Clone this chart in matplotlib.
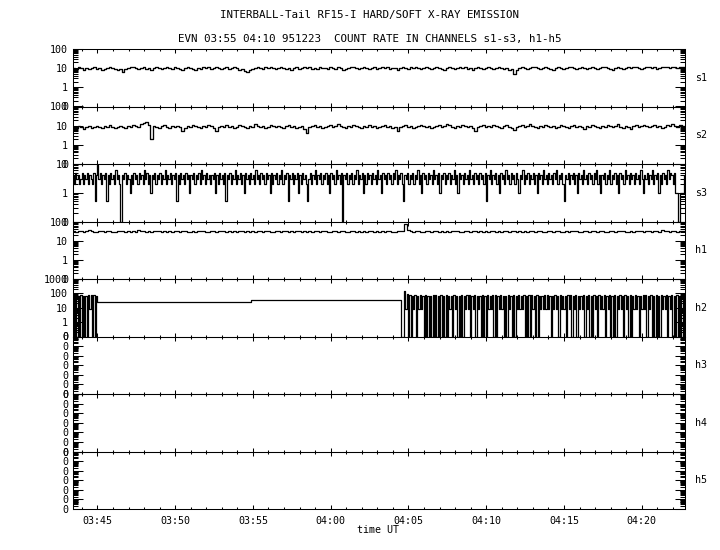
import numpy as np
import matplotlib
matplotlib.use("Agg")
import matplotlib.pyplot as plt
from matplotlib.ticker import FixedLocator, FixedFormatter, MultipleLocator, LogLocator, NullFormatter

TITLE = "INTERBALL-Tail RF15-I HARD/SOFT X-RAY EMISSION"
SUBTITLE = "EVN 03:55 04:10 951223  COUNT RATE IN CHANNELS s1-s3, h1-h5"
XLABEL = "time UT"
channels = ["s1", "s2", "s3", "h1", "h2", "h3", "h4", "h5"]

# time in minutes after 03:00 UT
x_range = (43.43, 82.78)
x_major = [45, 50, 55, 60, 65, 70, 75, 80]
x_major_labels = ["03:45", "03:50", "03:55", "04:00", "04:05", "04:10", "04:15", "04:20"]

# per-channel y ranges (log) and tick labels
y_limits = {"s1": (0.1, 100), "s2": (0.1, 100), "s3": (0.1, 10), "h1": (0.1, 100),
            "h2": (0.1, 1000), "h3": (1e-6, 1), "h4": (1e-6, 1), "h5": (1e-6, 1)}
y_ticks = {"s1": [0.1, 1, 10, 100], "s2": [0.1, 1, 10, 100], "s3": [0.1, 1, 10],
           "h1": [0.1, 1, 10, 100], "h2": [0.1, 1, 10, 100, 1000],
           "h3": [1e-6, 1e-5, 1e-4, 1e-3, 1e-2, 1e-1, 1],
           "h4": [1e-6, 1e-5, 1e-4, 1e-3, 1e-2, 1e-1, 1],
           "h5": [1e-6, 1e-5, 1e-4, 1e-3, 1e-2, 1e-1, 1]}
y_tick_labels = {"s1": ["0", "1", "10", "100"], "s2": ["0", "1", "10", "100"],
                 "s3": ["0", "1", "10"], "h1": ["0", "1", "10", "100"],
                 "h2": ["0", "1", "10", "100", "1000"],
                 "h3": ["0"] * 7, "h4": ["0"] * 7, "h5": ["0"] * 7}

# s1, s2, h1 sampled every 10 s starting 03:43:24
t_start = 43.40
t_step = 1.0 / 6.0

s1 = [10, 9, 11, 10, 8, 10, 9, 10, 11, 9, 10, 8, 9, 10, 11, 10, 9, 8, 9, 6,
      9, 10, 11, 12, 10, 9, 10, 11, 9, 10, 8, 10, 11, 10, 9, 10, 12, 10, 9, 11,
      10, 9, 8, 10, 11, 10, 9, 8, 10, 9, 11, 10, 12, 9, 10, 11, 10, 9, 10, 11,
      9, 10, 11, 10, 8, 9, 7, 6, 8, 9, 10, 11, 10, 9, 11, 10, 12, 10, 9, 10,
      11, 10, 9, 10, 8, 10, 11, 9, 10, 11, 10, 12, 9, 10, 9, 11, 10, 10, 9, 11,
      10, 9, 11, 10, 8, 9, 10, 11, 12, 10, 9, 10, 11, 10, 9, 10, 11, 9, 10, 12,
      10, 11, 9, 10, 10, 8, 10, 11, 10, 9, 11, 10, 12, 10, 9, 10, 11, 10, 9, 10,
      11, 10, 9, 8, 10, 11, 10, 9, 10, 12, 10, 11, 9, 10, 8, 10, 11, 10, 9, 10,
      11, 10, 9, 10, 11, 10, 9, 10, 8, 9, 5, 8, 10, 11, 10, 9, 10, 11, 12, 10,
      9, 10, 11, 10, 9, 8, 10, 11, 10, 9, 10, 12, 11, 10, 9, 10, 11, 10, 9, 10,
      11, 10, 9, 10, 11, 12, 10, 9, 8, 10, 11, 10, 9, 10, 11, 10, 12, 11, 10, 9,
      10, 11, 12, 10, 11, 9, 10, 11, 12, 11, 10, 11, 12, 10, 11, 12, 11]

s2 = [9, 8, 10, 9, 7, 9, 10, 8, 9, 10, 9, 8, 10, 9, 11, 9, 8, 9, 10, 9,
      8, 10, 9, 11, 10, 9, 12, 13, 15, 11, 2, 10, 9, 8, 10, 11, 9, 8, 10, 9,
      10, 9, 5, 8, 10, 9, 11, 10, 9, 8, 10, 9, 11, 10, 8, 5, 9, 10, 9, 11,
      9, 10, 8, 9, 11, 10, 9, 8, 10, 9, 12, 10, 9, 10, 8, 9, 11, 10, 9, 10,
      9, 8, 10, 11, 9, 10, 8, 9, 10, 7, 4, 9, 10, 11, 9, 10, 8, 9, 10, 11,
      9, 10, 12, 10, 9, 8, 10, 9, 11, 10, 9, 8, 10, 9, 11, 9, 10, 8, 9, 10,
      11, 9, 10, 8, 9, 5, 9, 10, 11, 9, 10, 8, 9, 10, 11, 10, 9, 10, 8, 9,
      10, 11, 9, 10, 12, 11, 9, 8, 10, 9, 11, 10, 9, 10, 8, 5, 9, 10, 11, 9,
      10, 9, 11, 10, 9, 8, 10, 11, 9, 8, 6, 9, 10, 11, 9, 10, 12, 10, 9, 8,
      10, 9, 11, 10, 9, 10, 8, 9, 11, 10, 9, 8, 10, 11, 9, 10, 9, 7, 10, 9,
      11, 10, 9, 8, 10, 9, 11, 10, 9, 10, 12, 9, 8, 10, 9, 7, 10, 11, 9, 10,
      11, 10, 9, 10, 11, 9, 10, 8, 9, 11, 10, 12, 10, 9, 11, 10, 9]

h1 = [32, 30, 33, 31, 29, 32, 34, 31, 30, 28, 31, 33, 30, 32, 31, 29, 30, 32, 31, 33,
      30, 31, 29, 32, 30, 34, 33, 31, 30, 32, 29, 31, 33, 32, 30, 31, 29, 32, 30, 31,
      33, 30, 32, 31, 29, 28, 31, 30, 32, 31, 33, 30, 29, 31, 32, 30, 31, 33, 32, 30,
      31, 29, 32, 30, 31, 33, 30, 32, 29, 31, 30, 32, 31, 30, 33, 31, 29, 30, 32, 31,
      30, 32, 31, 29, 33, 30, 31, 32, 30, 31, 29, 32, 30, 33, 31, 30, 32, 31, 29, 30,
      32, 31, 30, 33, 31, 29, 30, 32, 31, 30, 32, 29, 31, 30, 33, 32, 30, 31, 29, 32,
      30, 31, 32, 30, 29, 31, 33, 32, 74, 36, 31, 30, 32, 31, 29, 30, 32, 31, 30, 33,
      31, 30, 32, 29, 31, 30, 33, 31, 32, 30, 29, 31, 32, 30, 31, 33, 30, 31, 29, 32,
      30, 31, 32, 30, 31, 29, 32, 31, 30, 33, 31, 30, 32, 29, 31, 30, 32, 31, 30, 31,
      32, 30, 29, 31, 33, 30, 31, 32, 30, 29, 31, 30, 32, 31, 33, 30, 29, 31, 32, 30,
      31, 33, 30, 32, 31, 29, 30, 32, 31, 30, 33, 31, 32, 30, 29, 31, 30, 32, 33, 31,
      30, 32, 31, 29, 33, 31, 30, 34, 32, 31, 30, 33, 31, 30, 32, 31, 33]

# s3 sampled every 5 s starting 03:43:24
s3_step = 5.0 / 60.0
s3 = [4, 2, 5, 3, 4, 2, 3, 5, 2, 4, 3, 5, 2, 4, 3, 2, 5, 0.5, 4, 9, 3, 5, 2, 4,
      3, 5, 0.5, 4, 2, 5, 3, 4, 2, 6, 3, 4, 2, 0, 4, 3, 5, 2, 4, 3, 1, 4, 2, 5,
      3, 4, 2, 5, 3, 4, 2, 6, 3, 5, 2, 4, 1, 4, 3, 5, 2, 4, 3, 5, 2, 4, 3, 6,
      2, 4, 3, 5, 2, 4, 3, 5, 0.5, 4, 2, 5, 3, 4, 2, 5, 3, 4, 1, 4, 3, 5, 2, 4,
      3, 5, 2, 6, 3, 4, 2, 5, 3, 4, 2, 4, 3, 5, 1, 4, 2, 5, 3, 4, 2, 5, 0.5, 4,
      3, 5, 2, 4, 3, 6, 2, 4, 3, 5, 2, 4, 1, 5, 3, 4, 2, 5, 3, 4, 2, 6, 3, 4,
      2, 5, 3, 4, 2, 5, 3, 4, 1, 5, 2, 4, 3, 5, 2, 4, 3, 6, 2, 4, 3, 5, 0.5, 4,
      3, 5, 2, 4, 3, 5, 1, 4, 2, 5, 3, 4, 2, 0.5, 3, 5, 2, 4, 3, 6, 2, 4, 3, 5,
      2, 4, 3, 5, 2, 4, 1, 5, 3, 4, 2, 6, 3, 4, 2, 5, 0, 4, 3, 5, 2, 4, 3, 5,
      2, 4, 3, 6, 2, 4, 3, 5, 1, 4, 2, 5, 3, 4, 2, 5, 3, 4, 2, 6, 3, 4, 1, 5,
      3, 4, 2, 5, 3, 4, 2, 5, 3, 6, 2, 4, 3, 5, 2, 0.5, 4, 3, 5, 2, 4, 3, 5, 2,
      4, 3, 6, 2, 4, 1, 5, 3, 4, 2, 5, 3, 4, 2, 6, 3, 4, 2, 5, 1, 4, 3, 5, 2,
      4, 3, 5, 2, 4, 3, 6, 2, 4, 1, 5, 3, 4, 2, 5, 3, 4, 2, 6, 3, 4, 2, 5, 3,
      4, 2, 5, 3, 4, 2, 5, 0.5, 4, 3, 6, 2, 4, 3, 5, 2, 4, 1, 5, 3, 4, 2, 6, 3,
      4, 2, 5, 3, 4, 2, 5, 3, 1, 4, 3, 6, 2, 4, 3, 5, 2, 4, 3, 5, 2, 4, 1, 5,
      3, 4, 2, 6, 3, 4, 2, 5, 3, 4, 2, 5, 3, 6, 2, 4, 3, 5, 2, 0.5, 4, 3, 5, 2,
      4, 3, 5, 2, 4, 1, 5, 3, 4, 2, 6, 3, 4, 2, 5, 3, 4, 2, 5, 3, 6, 2, 4, 1,
      4, 3, 5, 2, 4, 3, 6, 2, 4, 3, 5, 2, 4, 1, 5, 3, 4, 2, 6, 3, 4, 2, 5, 3,
      4, 2, 5, 3, 4, 2, 6, 3, 1, 4, 3, 5, 2, 4, 3, 6, 2, 4, 3, 5, 1, 4, 2, 5,
      3, 4, 2, 6, 3, 5, 4, 2, 5, 1, 1, 0, 0, 1, 1, 1, 4, 3, 5, 2, 4, 3, 5, 4]

# h2: fast (5 s) samples before 03:45 and after 04:04:33, slow records in between
h2_fast_step = 5.0 / 60.0
h2_left_start = 43.40
h2_left = [70, 0, 75, 0, 65, 0, 80, 0, 70, 0, 68, 0, 75, 8, 72, 0, 78, 0, 70]
h2_slow_times = [45.0, 54.85]
h2_slow_vals = [24, 33]
h2_right_start = 64.55
h2_right = [0, 0, 150, 8, 95, 0, 72, 0, 70, 8, 78, 0, 66, 8, 74, 8, 68, 0, 76, 0,
            70, 0, 64, 0, 72, 0, 80, 0, 68, 0, 74, 0, 66, 0, 78, 0, 70, 8, 62, 0,
            76, 8, 70, 0, 66, 0, 74, 0, 68, 8, 80, 8, 72, 0, 64, 8, 76, 0, 70, 8,
            68, 0, 74, 0, 70, 0, 78, 8, 66, 8, 72, 0, 80, 0, 68, 8, 74, 8, 62, 0,
            70, 0, 76, 8, 68, 0, 72, 0, 66, 8, 78, 8, 70, 8, 74, 0, 64, 0, 72, 0,
            80, 8, 68, 0, 74, 0, 70, 8, 66, 8, 76, 8, 72, 8, 64, 0, 70, 8, 78, 8,
            68, 0, 74, 8, 70, 8, 66, 0, 80, 8, 72, 0, 64, 8, 76, 0, 70, 8, 68, 8,
            74, 0, 66, 8, 78, 0, 70, 0, 72, 8, 68, 0, 76, 8, 64, 8, 74, 0, 70, 8,
            80, 0, 68, 0, 72, 0, 66, 8, 74, 8, 70, 0, 78, 8, 64, 0, 72, 0, 68, 8,
            76, 8, 70, 0, 66, 8, 74, 8, 80, 0, 68, 8, 72, 0, 64, 0, 76, 0, 70, 0,
            74, 8, 68, 8, 78, 0, 66, 8, 72, 0, 70, 0, 80, 0, 68, 0, 74, 0, 96]

# ---------------------------------------------------------------------------
plt.rcParams["font.family"] = ["DejaVu Sans Mono"]
FS = 7.2
FS_TITLE = 7.8
W, H = 720, 550
fig = plt.figure(figsize=(W / 100, H / 100), dpi=100)

left_px, right_px, top_px, bottom_px = 73, 685, 49, 509
panel_h = (bottom_px - top_px) / len(channels)


def series_times(start, step, n):
    return start + step * np.arange(n)


t_10s = series_times(t_start, t_step, len(s1))
data = {"s1": (t_10s, np.array(s1, float)), "s2": (t_10s, np.array(s2, float)),
        "s3": (series_times(t_start, s3_step, len(s3)), np.array(s3, float)),
        "h1": (t_10s, np.array(h1, float))}
t_h2 = np.concatenate([series_times(h2_left_start, h2_fast_step, len(h2_left)),
                       np.array(h2_slow_times),
                       series_times(h2_right_start, h2_fast_step, len(h2_right))])
v_h2 = np.concatenate([h2_left, h2_slow_vals, h2_right]).astype(float)
data["h2"] = (t_h2, v_h2)
line_widths = {"s1": 0.95, "s2": 0.95, "s3": 0.9, "h1": 0.9, "h2": 0.9}

for k, ch in enumerate(channels):
    y0 = top_px + k * panel_h
    ax = fig.add_axes([left_px / W, 1 - (y0 + panel_h) / H,
                       (right_px - left_px) / W, panel_h / H])
    ax.set_yscale("log")
    lo, hi = y_limits[ch]
    if ch in data:
        t, v = data[ch]
        step = t[-1] - t[-2]
        tt = np.append(t, t[-1] + step)
        vv = np.append(v, v[-1])
        ax.step(tt, np.clip(vv, lo, None), where="post", color="black",
                lw=line_widths[ch])
    ax.set_xlim(*x_range)
    ax.set_ylim(lo, hi)
    ax.yaxis.set_major_locator(FixedLocator(y_ticks[ch]))
    ax.yaxis.set_major_formatter(FixedFormatter(y_tick_labels[ch]))
    ax.yaxis.set_minor_locator(LogLocator(base=10, subs=np.arange(2, 10), numticks=50))
    ax.yaxis.set_minor_formatter(NullFormatter())
    ax.xaxis.set_major_locator(FixedLocator(x_major))
    ax.xaxis.set_minor_locator(MultipleLocator(1))
    if k == len(channels) - 1:
        ax.xaxis.set_major_formatter(FixedFormatter(x_major_labels))
    else:
        ax.xaxis.set_major_formatter(NullFormatter())
    ax.tick_params(axis="both", which="both", direction="in", top=True, right=True,
                   width=0.75, color="black", labelsize=FS)
    ax.tick_params(axis="y", which="major", length=7, pad=3.5)
    ax.tick_params(axis="y", which="minor", length=3.5)
    ax.tick_params(axis="x", which="major", length=3, pad=5)
    ax.tick_params(axis="x", which="minor", length=1.5)
    for sp in ax.spines.values():
        sp.set_linewidth(0.75)
    ax.text(1.016, 0.5, ch, transform=ax.transAxes, ha="left", va="center", fontsize=FS)
    ax.patch.set_alpha(0)

fig.text(370 / W, 1 - 15 / H, TITLE, ha="center", va="center", fontsize=FS_TITLE)
fig.text(370 / W, 1 - 39 / H, SUBTITLE, ha="center", va="center", fontsize=FS_TITLE)
fig.text(378 / W, 1 - 530 / H, XLABEL, ha="center", va="center", fontsize=FS)

fig.savefig("out.png", dpi=100, facecolor="white")
